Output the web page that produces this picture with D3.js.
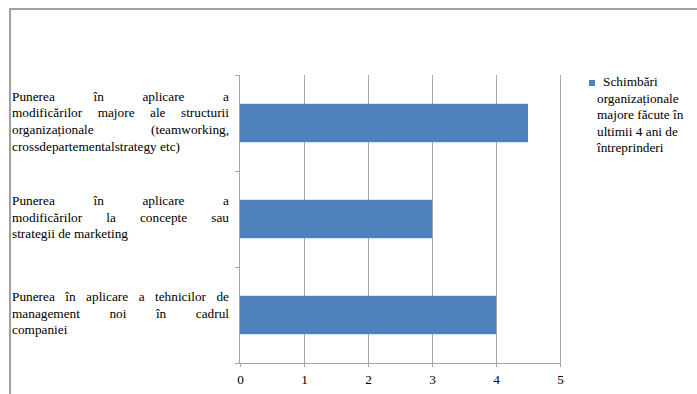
<!DOCTYPE html>
<html>
<head>
<meta charset="utf-8">
<script src="https://cdn.jsdelivr.net/npm/d3@7"></script>
<style>
  html, body { margin: 0; padding: 0; background: #fff; }
  #wrap { position: relative; width: 697px; height: 394px; overflow: hidden; font-family: "Times New Roman", Times, "Liberation Serif", serif; }
  #chart { display: block; position: absolute; left: 0; top: 0; }
  #chart text { font-family: "Times New Roman", Times, "Liberation Serif", serif; }
  .cat-line {
    position: absolute;
    left: 12px;
    width: 217px;
    font-size: 13.3px;
    line-height: 16.6px;
    white-space: nowrap;
    color: #000;
  }
  .cat-line.just { text-align: justify; text-align-last: justify; white-space: normal; }
</style>
</head>
<body>
<div id="wrap">
<svg id="chart" width="697" height="394"></svg>
</div>
<script>
// Category labels, with the line breaks of the original justified paragraphs
const categories = [
  "Punerea în aplicare a\nmodificărilor majore ale structurii\norganizaționale (teamworking,\ncrossdepartementalstrategy etc)",
  "Punerea în aplicare a\nmodificărilor la concepte sau\nstrategii de marketing",
  "Punerea în aplicare a tehnicilor de\nmanagement noi în cadrul\ncompaniei"
];
const values = [4.5, 3, 4];
const xTicks = [0, 1, 2, 3, 4, 5];
const seriesName = ["Schimbări", "organizaționale", "majore făcute în", "ultimii 4 ani de", "întreprinderi"];

const serifFont = "\"Times New Roman\", Times, \"Liberation Serif\", serif";
const fontSize = "13.3px";
const barColor = "#4F81BD";
const gridColor = "#a6a6a6";

const svg = d3.select("#chart");

// outer frame
svg.append("path")
  .attr("d", "M10,400 V9 H700")
  .attr("fill", "none")
  .attr("stroke", "#a0a0a0")
  .attr("stroke-width", 2);

const plot = { left: 240, right: 560, top: 75, bottom: 363 };

const x = d3.scaleLinear().domain([0, 5]).range([plot.left, plot.right]);
const y = d3.scaleBand().domain(categories).range([plot.top, plot.bottom])
  .paddingInner(0.6).paddingOuter(0.3);

// vertical gridlines
svg.append("g").selectAll("line")
  .data(xTicks.filter(d => d > 0))
  .join("line")
  .attr("x1", d => Math.round(x(d)) + 0.5)
  .attr("x2", d => Math.round(x(d)) + 0.5)
  .attr("y1", plot.top)
  .attr("y2", plot.bottom)
  .attr("stroke", gridColor);

// bars
svg.append("g").selectAll("rect")
  .data(categories)
  .join("rect")
  .attr("x", x(0))
  .attr("y", d => y(d))
  .attr("width", (d, i) => x(values[i]) - x(0))
  .attr("height", y.bandwidth())
  .attr("fill", barColor);

// x axis
const xAxis = svg.append("g")
  .attr("transform", `translate(0,${plot.bottom})`)
  .call(d3.axisBottom(x).tickValues(xTicks).tickSize(4).tickPadding(8).tickFormat(d3.format("d")));
xAxis.attr("font-family", null).attr("font-size", null);
xAxis.select(".domain").attr("stroke", gridColor).attr("d", `M${plot.left - 5},0.5H${plot.right + 0.5}`);
xAxis.selectAll(".tick line").attr("stroke", gridColor);
xAxis.selectAll(".tick text")
  .style("font-family", serifFont)
  .style("font-size", fontSize)
  .attr("fill", "#000");

// y axis line with ticks at the category boundaries
const yAxisG = svg.append("g");
yAxisG.append("line")
  .attr("x1", plot.left - 0.5).attr("x2", plot.left - 0.5)
  .attr("y1", plot.top).attr("y2", plot.bottom)
  .attr("stroke", gridColor);
yAxisG.selectAll("line.tk")
  .data(d3.range(categories.length + 1).map(i => plot.top + i * y.step()))
  .join("line")
  .attr("class", "tk")
  .attr("x1", plot.left - 5).attr("x2", plot.left)
  .attr("y1", d => Math.round(d) + 0.5).attr("y2", d => Math.round(d) + 0.5)
  .attr("stroke", gridColor);

// justified category labels as HTML lines (last line of each paragraph left-aligned)
const lineH = 16.6, baselineInBox = 12.8;
const wrap = d3.select("#wrap");
categories.forEach((cat) => {
  const lines = cat.split("\n");
  const center = y(cat) + y.bandwidth() / 2;
  const firstBaseline = center - ((lines.length - 1) * lineH) / 2 + 3.5;
  lines.forEach((line, li) => {
    wrap.append("div")
      .attr("class", "cat-line" + (li < lines.length - 1 ? " just" : ""))
      .style("font-family", serifFont)
      .style("top", (firstBaseline + li * lineH - baselineInBox) + "px")
      .text(line);
  });
});

// legend
const legend = svg.append("g");
legend.append("rect")
  .attr("x", 589).attr("y", 80).attr("width", 6).attr("height", 6)
  .attr("fill", barColor);
legend.append("text")
  .style("font-family", serifFont).style("font-size", fontSize)
  .selectAll("tspan")
  .data(seriesName)
  .join("tspan")
  .attr("x", (d, i) => i === 0 ? 603 : 597)
  .attr("y", (d, i) => 86 + i * 16.5)
  .text(d => d);
</script>
</body>
</html>
